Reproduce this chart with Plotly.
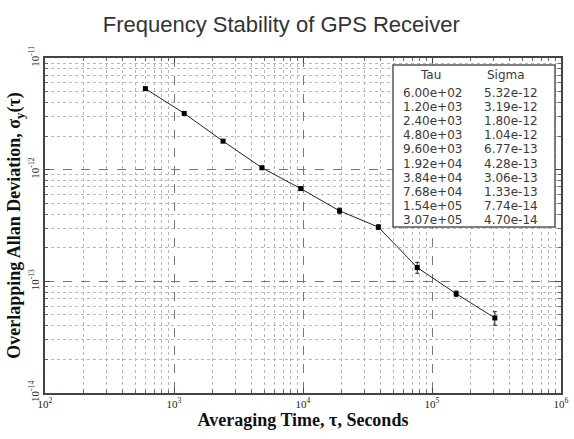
import plotly.graph_objects as go

tau = [6.00e2, 1.20e3, 2.40e3, 4.80e3, 9.60e3, 1.92e4, 3.84e4, 7.68e4, 1.54e5, 3.07e5]
sigma = [5.32e-12, 3.19e-12, 1.80e-12, 1.04e-12, 6.77e-13, 4.28e-13, 3.06e-13, 1.33e-13, 7.74e-14, 4.70e-14]
sigma_err = [0.10e-12, 0.08e-12, 0.05e-12, 0.03e-12, 0.25e-13, 0.25e-13, 0.15e-13, 0.15e-13, 0.45e-14, 0.65e-14]

x_tickvals = [1e2, 1e3, 1e4, 1e5, 1e6]
x_ticktext = ["10<sup>2</sup>", "10<sup>3</sup>", "10<sup>4</sup>", "10<sup>5</sup>", "10<sup>6</sup>"]
y_tickvals = [1e-14, 1e-13, 1e-12, 1e-11]
y_ticktext = ["10<sup>-14</sup>", "10<sup>-13</sup>", "10<sup>-12</sup>", "10<sup>-11</sup>"]

x_minor = [m * 10 ** e for e in range(2, 6) for m in range(2, 10)]
y_minor = [m * 10.0 ** e for e in range(-14, -11) for m in range(2, 10)]

serif = "Liberation Serif, DejaVu Serif, serif"
sans = "Liberation Sans, Arial, sans-serif"
tabfont = "DejaVu Sans, sans-serif"

fig = go.Figure()
fig.add_trace(go.Scatter(
    x=tau, y=sigma, mode="lines+markers",
    line=dict(color="#222", width=1),
    marker=dict(color="black", size=5, symbol="square"),
    error_y=dict(type="data", array=sigma_err, color="#222", thickness=1, width=2),
    showlegend=False,
))

def axis_common(minor_vals):
    return dict(
        type="log", showline=True, linecolor="#444", linewidth=1.5, mirror="ticks",
        ticks="inside", ticklen=5, tickcolor="#444", automargin=False,
        showgrid=True, gridcolor="#777", griddash="dash", gridwidth=1,
        zeroline=False,
        minor=dict(tickmode="array", tickvals=minor_vals, ticks="inside", ticklen=3,
                   tickcolor="#666", showgrid=True,
                   gridcolor="#b8b8b8", griddash="dot", gridwidth=1),
        tickfont=dict(family=serif, size=11, color="#222"),
    )

fig.update_xaxes(**axis_common(x_minor), range=[2, 6], tickmode="array",
                 tickvals=x_tickvals, ticktext=x_ticktext,
                 title=dict(text="<b>Averaging Time, τ, Seconds</b>", standoff=2,
                            font=dict(family=serif, size=18, color="#111")))
fig.update_yaxes(**axis_common(y_minor), range=[-14, -11], tickmode="array",
                 tickvals=y_tickvals, ticktext=y_ticktext,
                 tickangle=-90,
                 title=dict(text="<b>Overlapping Allan Deviation, σ<sub>y</sub>(τ)</b>", standoff=0,
                            font=dict(family=serif, size=18, color="#111")))

# table box (pixel layout: plot x 45..561, y 58..393)
L, R, T, B = 45, 561, 58, 393
def px(xp):
    return (xp - L) / (R - L)
def py(yp):
    return (B - yp) / (B - T)

fig.add_shape(type="rect", xref="paper", yref="paper", x0=px(393), x1=px(555), y0=py(227), y1=py(65),
              line=dict(color="#555", width=1.5), fillcolor="white", layer="above")

tfont = dict(family=tabfont, size=12, color="#3a3a3a")
fig.add_annotation(xref="paper", yref="paper", x=px(430), y=py(75), text="Tau",
                   showarrow=False, font=tfont, xanchor="center", yanchor="middle")
fig.add_annotation(xref="paper", yref="paper", x=px(506), y=py(75), text="Sigma",
                   showarrow=False, font=tfont, xanchor="center", yanchor="middle")
for i, (t, s) in enumerate(zip(tau, sigma)):
    yy = py(93 + i * 14.1)
    fig.add_annotation(xref="paper", yref="paper", x=px(432), y=yy, text=f"{t:.2e}",
                       showarrow=False, font=tfont, xanchor="center", yanchor="middle")
    fig.add_annotation(xref="paper", yref="paper", x=px(511), y=yy, text=f"{s:.2e}",
                       showarrow=False, font=tfont, xanchor="center", yanchor="middle")

fig.update_layout(
    width=574, height=439,
    margin=dict(l=L, r=574 - R, t=T, b=439 - B),
    paper_bgcolor="white", plot_bgcolor="white",
    title=dict(text="Frequency Stability of GPS Receiver", x=0.49, xanchor="center",
               y=0.945, yanchor="middle",
               font=dict(family=sans, size=22, color="#333")),
)

fig.write_html("out.html", config={"displayModeBar": False},
               post_script="document.body.style.margin='0';")
